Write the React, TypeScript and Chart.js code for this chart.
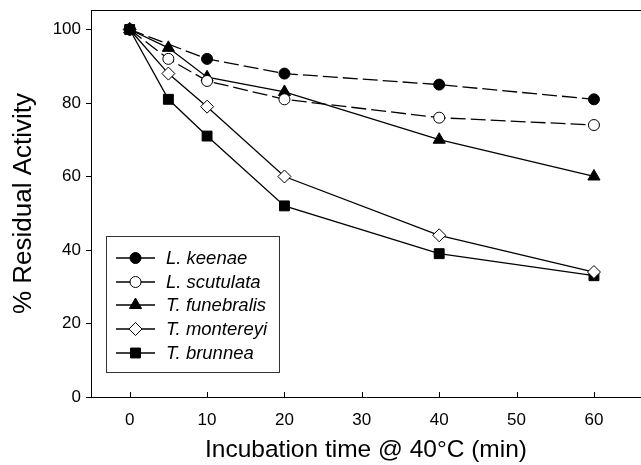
import React, { useEffect, useRef } from "react";
import { Chart, registerables } from "chart.js";

Chart.register(...registerables);

// ---- Data ----
const seriesNames = ["L. keenae", "L. scutulata", "T. funebralis", "T. montereyi", "T. brunnea"];

const keenaeTime = [0, 10, 20, 40, 60];
const keenaeActivity = [100, 92, 88, 85, 81];

const scutulataTime = [0, 5, 10, 20, 40, 60];
const scutulataActivity = [100, 92, 86, 81, 76, 74];

const funebralisTime = [0, 5, 10, 20, 40, 60];
const funebralisActivity = [100, 95, 87, 83, 70, 60];

const montereyiTime = [0, 5, 10, 20, 40, 60];
const montereyiActivity = [100, 88, 79, 60, 44, 34];

const brunneaTime = [0, 5, 10, 20, 40, 60];
const brunneaActivity = [100, 81, 71, 52, 39, 33];

const xTickValues = [0, 10, 20, 30, 40, 50, 60];
const yTickValues = [0, 20, 40, 60, 80, 100];

const xTitle = "Incubation time @ 40°C (min)";
const yTitle = "% Residual Activity";

const FONT = "'Liberation Sans', Arial, Helvetica, sans-serif";

type Marker = { style: string; radius: number; fill: string };
const markers: Marker[] = [
  { style: "circle", radius: 5.5, fill: "#000" },
  { style: "circle", radius: 5.5, fill: "#fff" },
  { style: "triangle", radius: 7, fill: "#000" },
  { style: "rectRot", radius: 6.5, fill: "#fff" },
  { style: "rect", radius: 7, fill: "#000" },
];
const dashes: number[][] = [[15, 5], [15, 5], [], [], []];

function pts(xs: number[], ys: number[]) {
  return xs.map((x, i) => ({ x, y: ys[i] }));
}

function drawMarker(ctx: CanvasRenderingContext2D, m: Marker, x: number, y: number) {
  ctx.save();
  ctx.beginPath();
  const r = m.radius;
  if (m.style === "circle") {
    ctx.arc(x, y, r, 0, Math.PI * 2);
  } else if (m.style === "triangle") {
    const h = r * 1.5;
    const w = r * Math.sqrt(3);
    ctx.moveTo(x, y - r);
    ctx.lineTo(x + w / 2, y - r + h);
    ctx.lineTo(x - w / 2, y - r + h);
    ctx.closePath();
  } else if (m.style === "rectRot") {
    ctx.moveTo(x, y - r);
    ctx.lineTo(x + r, y);
    ctx.lineTo(x, y + r);
    ctx.lineTo(x - r, y);
    ctx.closePath();
  } else {
    const s = r * Math.SQRT1_2;
    ctx.rect(x - s, y - s, 2 * s, 2 * s);
  }
  ctx.fillStyle = m.fill;
  ctx.fill();
  ctx.strokeStyle = "#000";
  ctx.lineWidth = 1;
  ctx.stroke();
  ctx.restore();
}

const decorPlugin = {
  id: "decor",
  afterDraw(chart: any) {
    const { ctx, chartArea, scales } = chart;
    ctx.save();
    ctx.strokeStyle = "#000";
    ctx.lineWidth = 1;
    ctx.beginPath();
    // top border
    ctx.moveTo(chartArea.left, chartArea.top + 0.5);
    ctx.lineTo(chartArea.right, chartArea.top + 0.5);
    // x ticks (inward)
    xTickValues.forEach((v) => {
      const px = Math.round(scales.x.getPixelForValue(v)) + 0.5;
      ctx.moveTo(px, chartArea.bottom);
      ctx.lineTo(px, chartArea.bottom - 5);
    });
    // y ticks (outward)
    yTickValues.forEach((v) => {
      const py = Math.round(scales.y.getPixelForValue(v)) + 0.5;
      ctx.moveTo(chartArea.left, py);
      ctx.lineTo(chartArea.left - 5, py);
    });
    ctx.stroke();

    // legend
    const bx = 106.5, by = 236.5, bw = 173, bh = 136;
    ctx.strokeStyle = "#333";
    ctx.strokeRect(bx, by, bw, bh);
    const rowY = [258, 282, 305, 329, 353];
    ctx.font = `italic 18.5px ${FONT}`;
    ctx.textBaseline = "middle";
    ctx.textAlign = "left";
    seriesNames.forEach((name, i) => {
      const y = rowY[i];
      ctx.strokeStyle = "#000";
      ctx.lineWidth = 1.3;
      ctx.beginPath();
      ctx.moveTo(116, y);
      ctx.lineTo(155, y);
      ctx.stroke();
      drawMarker(ctx, markers[i], 135.5, y);
      ctx.fillStyle = "#000";
      ctx.fillText(name, 166, y + 1);
    });
    ctx.restore();
  },
};

export default function App() {
  const ref = useRef<HTMLCanvasElement | null>(null);

  useEffect(() => {
    document.body.style.margin = "0";
    if (!ref.current) return;
    const allData = [
      pts(keenaeTime, keenaeActivity),
      pts(scutulataTime, scutulataActivity),
      pts(funebralisTime, funebralisActivity),
      pts(montereyiTime, montereyiActivity),
      pts(brunneaTime, brunneaActivity),
    ];
    const chart = new Chart(ref.current, {
      type: "line",
      data: {
        datasets: seriesNames.map((name, i) => ({
          label: name,
          data: allData[i],
          borderColor: "#000",
          borderWidth: 1.3,
          borderDash: dashes[i],
          pointStyle: markers[i].style as any,
          pointRadius: markers[i].radius,
          pointBackgroundColor: markers[i].fill,
          pointBorderColor: "#000",
          pointBorderWidth: 1,
          fill: false,
          tension: 0,
        })),
      },
      options: {
        animation: false,
        responsive: true,
        maintainAspectRatio: false,
        layout: { autoPadding: false, padding: { top: 10, left: 0, right: 0, bottom: 0 } },
        plugins: { legend: { display: false }, tooltip: { enabled: false } },
        scales: {
          x: {
            type: "linear",
            min: -5,
            max: 66.08,
            afterFit: (s: any) => {
              s.height = 68;
              s.paddingLeft = 0;
              s.paddingRight = 0;
            },
            afterBuildTicks: (s: any) => {
              s.ticks = xTickValues.map((v) => ({ value: v }));
            },
            grid: { display: true, drawOnChartArea: false, drawTicks: false },
            border: { display: true, color: "#000", width: 1 },
            ticks: {
              padding: 13,
              color: "#000",
              font: { family: FONT, size: 17 },
              maxRotation: 0,
            },
            title: {
              display: true,
              text: xTitle,
              color: "#000",
              font: { family: FONT, size: 24.5, lineHeight: 1.2 },
              padding: { top: 0, bottom: 0 },
            },
          },
          y: {
            type: "linear",
            min: 0,
            max: 105.3,
            afterFit: (s: any) => {
              s.width = 91;
              s.paddingTop = 0;
              s.paddingBottom = 0;
            },
            afterBuildTicks: (s: any) => {
              s.ticks = yTickValues.map((v) => ({ value: v }));
            },
            grid: { display: true, drawOnChartArea: false, drawTicks: false },
            border: { display: true, color: "#000", width: 1 },
            ticks: {
              padding: 10,
              color: "#000",
              font: { family: FONT, size: 17 },
            },
            title: {
              display: true,
              text: yTitle,
              color: "#000",
              font: { family: FONT, size: 26, lineHeight: 1.2 },
              padding: { top: 8, bottom: 0 },
            },
          },
        },
      },
      plugins: [decorPlugin],
    });
    return () => chart.destroy();
  }, []);

  return (
    <div style={{ position: "absolute", left: 0, top: 0, width: 641, height: 465, background: "#fff" }}>
      <canvas ref={ref} />
    </div>
  );
}
